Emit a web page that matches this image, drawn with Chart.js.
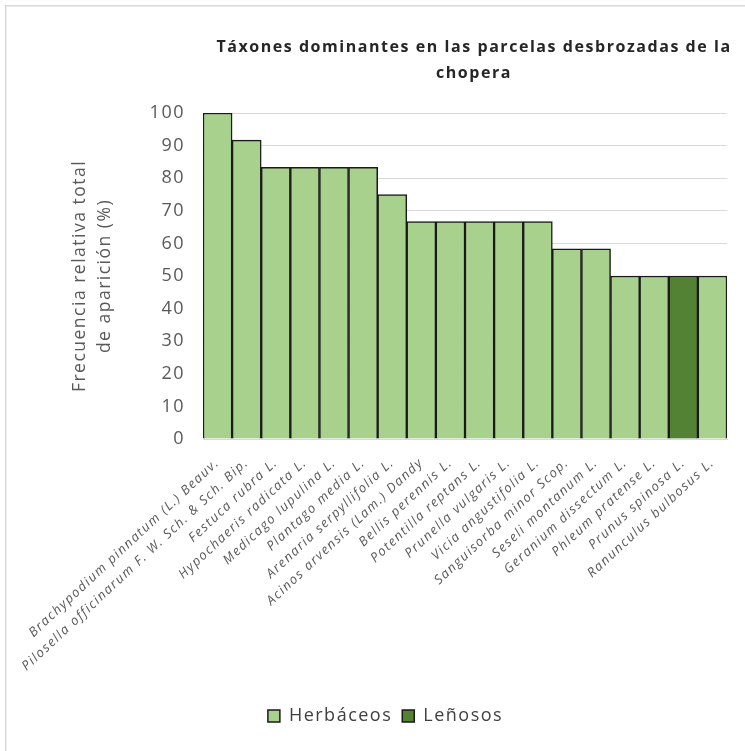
<!DOCTYPE html>
<html>
<head>
<meta charset="utf-8">
<script src="https://cdn.jsdelivr.net/npm/chart.js@4/dist/chart.umd.min.js"></script>
<style>
  html, body { margin: 0; padding: 0; background: #ffffff; }
  canvas { display: block; }
</style>
</head>
<body>
<canvas id="chart" width="745" height="751"></canvas>
<script>
// Taxa ordered by relative frequency of appearance
const categories = [
  "Brachypodium pinnatum (L.) Beauv.",
  "Pilosella officinarum F. W. Sch. & Sch. Bip.",
  "Festuca rubra L.",
  "Hypochaeris radicata L.",
  "Medicago lupulina L.",
  "Plantago media L.",
  "Arenaria serpyllifolia L.",
  "Acinos arvensis (Lam.) Dandy",
  "Bellis perennis L.",
  "Potentilla reptans L.",
  "Prunella vulgaris L.",
  "Vicia angustifolia L.",
  "Sanguisorba minor Scop.",
  "Seseli montanum L.",
  "Geranium dissectum L.",
  "Phleum pratense L.",
  "Prunus spinosa L.",
  "Ranunculus bulbosus L."
];

// Relative frequency (%) for herbaceous taxa
const herbaceos = [100, 91.7, 83.3, 83.3, 83.3, 83.3, 75, 66.7, 66.7, 66.7, 66.7, 66.7, 58.3, 58.3, 50, 50, null, 50];
// Relative frequency (%) for woody taxa
const lenosos = [null, null, null, null, null, null, null, null, null, null, null, null, null, null, null, null, 50, null];

const yTicks = { min: 0, max: 100, step: 10 };
const titleLines = ["Táxones dominantes en las parcelas desbrozadas de la", "chopera"];
const yTitleLines = ["Frecuencia relativa total", "de aparición (%)"];

const LETTER_SPACING = '1.5px';

// Loose tracking for all text, plus the outer frame and the two-line title
const frameAndTitle = {
  id: 'frameAndTitle',
  beforeUpdate(chart) {
    chart.ctx.letterSpacing = LETTER_SPACING;
  },
  beforeDraw(chart) {
    const ctx = chart.ctx;
    ctx.letterSpacing = LETTER_SPACING;
    ctx.save();
    ctx.fillStyle = '#ffffff';
    ctx.fillRect(0, 0, chart.width, chart.height);
    ctx.strokeStyle = '#d9d9d9';
    ctx.lineWidth = 1.5;
    ctx.beginPath();
    ctx.moveTo(5.75, chart.height);
    ctx.lineTo(5.75, 5.75);
    ctx.lineTo(chart.width, 5.75);
    ctx.stroke();
    ctx.restore();
  },
  afterDraw(chart) {
    const ctx = chart.ctx;
    const a = chart.chartArea;
    const cx = (a.left + a.right) / 2 + 9;
    ctx.save();
    ctx.fillStyle = '#262626';
    ctx.font = 'bold 16px "Open Sans"';
    ctx.letterSpacing = '1.55px';
    ctx.textAlign = 'center';
    ctx.textBaseline = 'middle';
    titleLines.forEach((t, i) => ctx.fillText(t, cx, 47 + i * 26));
    ctx.restore();
  }
};

new Chart(document.getElementById('chart'), {
  type: 'bar',
  data: {
    labels: categories,
    datasets: [
      {
        label: 'Herbáceos',
        data: herbaceos,
        backgroundColor: '#a9d18e',
        borderColor: '#1a1a1a',
        borderWidth: 1.5,
        barPercentage: 1,
        categoryPercentage: 1
      },
      {
        label: 'Leñosos',
        data: lenosos,
        backgroundColor: '#548235',
        borderColor: '#1a1a1a',
        borderWidth: 1.5,
        barPercentage: 1,
        categoryPercentage: 1
      }
    ]
  },
  options: {
    responsive: false,
    animation: false,
    layout: { padding: { left: 26, right: 0, top: 113, bottom: 16 } },
    plugins: {
      title: { display: false },
      tooltip: { enabled: false },
      legend: {
        position: 'bottom',
        labels: {
          boxWidth: 12,
          boxHeight: 12,
          padding: 10,
          color: '#404040',
          font: { family: '"Open Sans"', size: 18 }
        }
      }
    },
    scales: {
      x: {
        stacked: true,
        grid: { display: false, drawTicks: false },
        border: { display: true, color: '#d9d9d9', width: 1 },
        ticks: {
          autoSkip: false,
          maxRotation: 43,
          minRotation: 43,
          padding: 16,
          color: '#595959',
          font: { family: '"Open Sans"', size: 13, style: 'italic' }
        },
        afterFit(s) { s.height = 258; }
      },
      y: {
        stacked: true,
        min: yTicks.min,
        max: yTicks.max,
        grid: { color: '#d9d9d9', lineWidth: 1, drawTicks: false },
        border: { display: false },
        ticks: {
          stepSize: yTicks.step,
          padding: 18,
          color: '#595959',
          font: { family: '"Open Sans"', size: 18 }
        },
        title: {
          display: true,
          text: yTitleLines,
          color: '#595959',
          padding: { top: 41, bottom: 0 },
          font: { family: '"Open Sans"', size: 17.5, lineHeight: 1.45 }
        },
        afterFit(s) { s.width = 177; }
      },
      yRight: {
        position: 'right',
        display: true,
        grid: { display: false, drawTicks: false },
        border: { display: false },
        ticks: { display: false },
        afterFit(s) { s.width = 18; }
      }
    }
  },
  plugins: [frameAndTitle]
});
</script>
</body>
</html>
